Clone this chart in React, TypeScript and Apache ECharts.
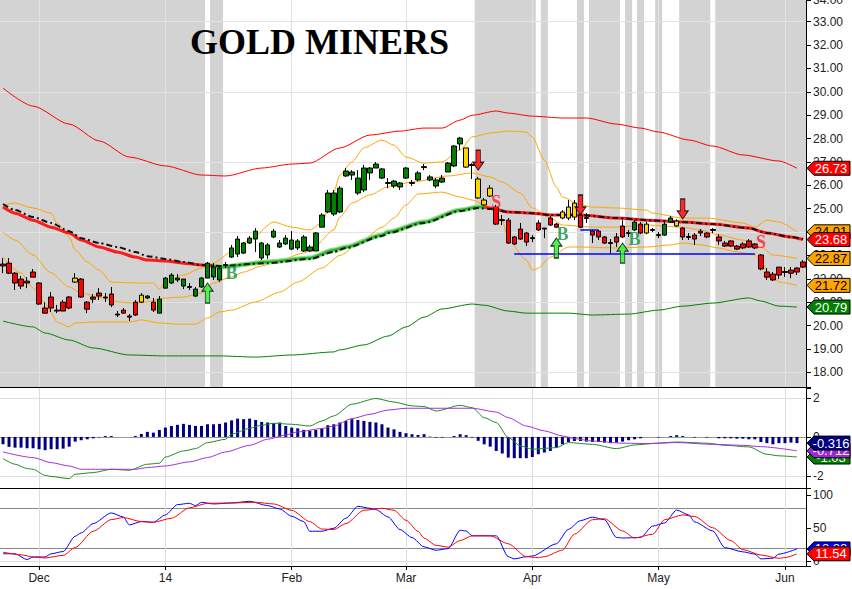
import React, { useEffect, useRef } from "react";
import * as echarts from "echarts";

// ---------------- DATA ----------------
const HOLIDAYS = ["2013-11-28", "2013-12-25", "2014-01-01", "2014-01-20", "2014-02-17", "2014-04-18", "2014-05-26"];
const FIRST_DAY = "2013-11-21";
const MONTHS = ["Jan", "Feb", "Mar", "Apr", "May", "Jun", "Jul", "Aug", "Sep", "Oct", "Nov", "Dec"];

// candle bodies: [bodyTop, bodyBottom, low, high]
const bars: number[][] = [
  [22.63, 22.55, 22.24, 22.89], [22.67, 22.24, 22.2, 22.89], [22.24, 21.82, 21.52, 22.29], [21.99, 21.69, 21.56, 22.12],
  [21.9, 21.82, 21.6, 22.07], [22.29, 22.07, 22.07, 22.42], [21.82, 20.92, 20.88, 21.86], [20.75, 20.53, 20.53, 21.0],
  [21.22, 20.75, 20.58, 21.43], [20.66, 20.62, 20.53, 20.88], [21.0, 20.62, 20.62, 21.09], [21.22, 20.75, 20.7, 21.26],
  [22.03, 21.86, 21.82, 22.24], [21.99, 21.22, 21.18, 22.03], [21.0, 20.7, 20.53, 21.05], [21.22, 21.13, 20.96, 21.35],
  [21.39, 21.26, 21.09, 21.6], [21.22, 21.18, 21.0, 21.39], [21.35, 20.88, 20.79, 21.65], [20.49, 20.45, 20.36, 20.62],
  [20.66, 20.53, 20.53, 20.75], [20.41, 20.36, 20.19, 20.49], [21.0, 20.45, 20.41, 21.09], [21.3, 21.0, 20.96, 21.39],
  [21.26, 21.18, 21.13, 21.3], [21.0, 20.66, 20.58, 21.18], [21.13, 20.53, 20.53, 21.26], [22.03, 21.6, 21.6, 22.08],
  [22.16, 21.82, 21.78, 22.24], [22.03, 21.95, 21.86, 22.2], [21.99, 21.69, 21.56, 21.99], [21.67, 21.63, 21.52, 21.82],
  [21.56, 21.26, 21.22, 21.65], [22.03, 21.65, 21.61, 22.08], [22.67, 22.03, 22.03, 22.72], [22.5, 22.08, 21.95, 22.67],
  [22.46, 21.95, 21.86, 22.5], [22.61, 22.57, 22.46, 22.72], [23.32, 22.93, 22.89, 23.45], [23.7, 23.06, 22.93, 23.83],
  [23.53, 23.1, 23.06, 23.57], [23.74, 23.53, 23.49, 23.83], [24.04, 23.7, 23.15, 24.17], [23.53, 22.89, 22.8, 23.57],
  [23.45, 23.02, 22.85, 23.53], [24.04, 23.79, 23.74, 24.13], [23.53, 23.36, 23.32, 23.66], [23.74, 23.49, 23.45, 23.87],
  [23.66, 23.27, 23.23, 24.04], [23.62, 23.32, 23.23, 23.7], [23.79, 23.19, 23.15, 23.87], [23.36, 23.19, 23.15, 23.45],
  [23.96, 23.19, 23.19, 24.0], [24.73, 24.21, 24.21, 24.81], [25.67, 24.86, 24.81, 25.8], [25.67, 24.77, 24.69, 25.8],
  [25.88, 24.86, 24.81, 25.97], [26.61, 26.4, 26.36, 26.74], [26.57, 26.44, 26.23, 26.65], [26.31, 25.67, 25.59, 26.65],
  [26.74, 25.8, 25.71, 26.87], [26.74, 26.53, 26.23, 26.78], [26.91, 26.74, 26.74, 27.0], [26.7, 26.31, 26.27, 26.74],
  [26.12, 26.08, 25.88, 26.31], [26.18, 25.97, 25.88, 26.23], [26.1, 25.93, 25.8, 26.14], [26.74, 26.31, 26.27, 26.78],
  [26.12, 26.08, 25.97, 26.23], [26.53, 26.23, 26.18, 26.61], [26.8, 26.76, 26.65, 26.91], [26.36, 26.23, 26.18, 26.44],
  [26.23, 25.97, 25.88, 26.31], [26.31, 26.14, 26.1, 26.44], [26.95, 26.57, 26.57, 27.0], [27.68, 26.83, 26.78, 27.72],
  [28.02, 27.77, 27.51, 28.07], [27.6, 26.78, 26.74, 27.6], [26.89, 26.85, 26.27, 26.95], [26.27, 25.46, 25.42, 26.36],
  [25.37, 25.16, 25.12, 25.46], [25.88, 25.54, 25.5, 26.01], [25.07, 24.34, 24.3, 25.16], [24.53, 24.49, 24.3, 24.73],
  [24.51, 23.53, 23.49, 24.6], [23.79, 23.49, 23.45, 23.83], [24.13, 23.7, 23.66, 24.39], [23.96, 23.57, 23.4, 24.0],
  [23.76, 23.72, 23.57, 23.87], [24.39, 24.09, 24.04, 24.51], [24.17, 24.13, 23.74, 24.17], [24.6, 24.3, 24.26, 24.69],
  [24.34, 24.21, 24.17, 24.39], [24.86, 24.6, 24.55, 24.94], [25.07, 24.6, 24.51, 25.37], [25.24, 24.64, 24.51, 25.37],
  [24.73, 24.21, 24.17, 24.81], [24.62, 24.58, 24.39, 24.81], [24.04, 23.87, 23.53, 24.09], [24.04, 23.79, 23.66, 24.09],
  [23.79, 23.53, 23.49, 23.83], [23.55, 23.51, 23.1, 23.7], [23.79, 23.57, 23.36, 23.96], [24.26, 23.79, 23.74, 24.51],
  [23.98, 23.94, 23.79, 24.09], [24.43, 24.09, 24.04, 24.51], [24.34, 23.96, 23.91, 24.43], [24.34, 23.96, 23.91, 24.43],
  [24.11, 24.07, 24.0, 24.17], [23.89, 23.85, 23.74, 24.0], [24.34, 23.87, 23.83, 24.43], [24.6, 24.43, 24.39, 24.69],
  [24.47, 24.26, 24.21, 24.55], [24.17, 23.79, 23.66, 24.21], [23.81, 23.77, 23.66, 23.96], [23.87, 23.7, 23.45, 23.96],
  [24.04, 23.96, 23.83, 24.13], [23.96, 23.79, 23.74, 24.0], [24.11, 24.07, 23.96, 24.17], [23.79, 23.62, 23.45, 23.91],
  [23.53, 23.4, 23.36, 23.62], [23.62, 23.4, 23.36, 23.66], [23.4, 23.27, 23.23, 23.45], [23.49, 23.32, 23.27, 23.57],
  [23.62, 23.36, 23.32, 23.7], [23.49, 23.32, 23.27, 23.53], [23.02, 22.42, 22.37, 23.06], [22.29, 22.07, 21.95, 22.46],
  [22.2, 21.95, 21.91, 22.29], [22.5, 22.16, 21.99, 22.5], [22.31, 22.27, 22.08, 22.5], [22.37, 22.24, 22.03, 22.5],
  [22.46, 22.29, 22.16, 22.5], [22.72, 22.5, 22.46, 22.8],
];

// impulse state per bar: g = up, r = down, y = neutral
const impulse = [
  "rrrrrrrrrrrr", "y", "rrrrrrrrrr", "y", "g", "r",
  "gggggggggg", "gggggggggg", "gggggggggg", "gggggggggg", "gggggggggg", "g",
  "yyyyy", "rrrrrrrrrrr", "yyy", "rrrrrrrrr", "g", "r", "y", "rr", "gg", "y",
  "rrrrrrrrrr", "rrrrrrrrrr", "r",
].join("");

// shaded bar ranges [from, to]
const shadedRanges = [[0, 33], [35, 36], [79, 88], [90, 90], [96, 96], [98, 102], [104, 104], [106, 106], [109, 109], [113, 117], [119, 133]];

// overlays: [barIndex, value]
const bbUpper = [[0, 25.16], [2, 25.24], [5, 25.03], [8, 24.81], [9, 24.39], [11, 23.79], [12, 23.23], [14, 22.72], [16, 22.37], [18, 21.86], [22, 21.82], [25, 21.82], [26, 21.56], [27, 21.86], [30, 22.16], [33, 22.46], [35, 22.67], [38, 23.15], [41, 23.66], [45, 24.43], [48, 24.21], [51, 24.09], [53, 24.39], [55, 25.71], [56, 26.44], [58, 27.0], [60, 27.6], [63, 27.94], [65, 27.72], [67, 27.21], [70, 26.95], [73, 27.0], [76, 27.51], [78, 28.07], [81, 28.24], [84, 28.32], [87, 28.28], [88, 28.07], [90, 27.08], [92, 25.93], [93, 25.5], [96, 25.16], [98, 25.07], [102, 25.03], [107, 24.94], [108, 24.81], [113, 24.6], [117, 24.6], [123, 24.39], [125, 24.21], [127, 24.51], [129, 24.43], [132, 24.01]];
const bbMiddle = [[0, 24.0], [2, 23.66], [5, 23.02], [8, 22.25], [11, 21.65], [13, 21.39], [16, 21.22], [19, 21.01], [22, 20.96], [24, 21.01], [27, 21.18], [30, 21.22], [33, 21.39], [35, 21.82], [38, 22.08], [40, 22.29], [43, 22.55], [46, 22.8], [50, 23.1], [52, 23.45], [55, 24.09], [56, 24.64], [58, 25.24], [61, 25.59], [64, 25.93], [68, 26.14], [74, 26.4], [78, 26.53], [81, 26.36], [83, 26.14], [86, 25.67], [88, 25.03], [91, 24.6], [93, 24.3], [98, 24.21], [102, 24.21], [107, 24.3], [113, 24.21], [116, 24.09], [119, 23.87], [123, 23.66], [126, 23.36], [128, 23.02], [132, 22.87]];
const bbLower = [[0, 22.93], [3, 22.25], [5, 21.61], [7, 20.96], [8, 20.54], [9, 20.15], [11, 19.94], [12, 20.11], [15, 20.15], [21, 20.15], [23, 20.24], [26, 20.11], [29, 20.06], [32, 20.06], [34, 20.32], [36, 20.58], [38, 20.66], [42, 21.01], [46, 21.43], [49, 21.86], [53, 22.46], [56, 23.0], [60, 23.7], [63, 24.2], [65, 24.6], [67, 25.16], [69, 25.63], [73, 25.71], [76, 25.5], [78, 25.37], [81, 25.07], [83, 24.51], [84, 23.66], [87, 22.8], [88, 22.37], [89, 22.46], [91, 22.93], [94, 23.36], [96, 23.36], [102, 23.32], [107, 23.36], [111, 23.45], [113, 23.53], [116, 23.45], [119, 23.32], [122, 23.15], [125, 23.02], [126, 22.67], [128, 22.08], [129, 21.86], [132, 21.72]];
const envUpper = [[0, 30.16], [5, 29.39], [11, 28.62], [16, 27.9], [21, 27.21], [27, 26.83], [33, 26.44], [37, 26.4], [43, 26.74], [48, 26.91], [51, 26.95], [56, 27.6], [61, 28.15], [66, 28.32], [70, 28.45], [73, 28.45], [76, 28.79], [78, 29.0], [82, 29.18], [84, 29.09], [88, 28.96], [93, 28.88], [97, 28.88], [102, 28.62], [106, 28.45], [109, 28.28], [114, 27.94], [118, 27.68], [123, 27.3], [129, 27.04], [132, 26.73]];
const envLower = [[0, 20.19], [5, 19.94], [7, 19.68], [11, 19.38], [15, 19.04], [21, 18.74], [27, 18.7], [33, 18.7], [36, 18.7], [42, 18.65], [48, 18.74], [55, 18.87], [56, 18.96], [60, 19.17], [64, 19.55], [67, 19.94], [70, 20.36], [73, 20.71], [78, 20.92], [80, 20.87], [84, 20.62], [87, 20.53], [94, 20.53], [98, 20.45], [104, 20.49], [109, 20.66], [113, 20.83], [118, 20.96], [124, 21.18], [126, 21.05], [129, 20.83], [132, 20.79]];
const maFalling1 = [[0, 25.07], [2, 24.81], [5, 24.51], [8, 24.21], [11, 23.96], [13, 23.66], [16, 23.36], [19, 23.15], [22, 22.93], [24, 22.8], [27, 22.76], [30, 22.67], [33, 22.59], [35, 22.55]];
const maRising = [[35, 22.55], [36, 22.5], [44, 22.72], [51, 22.89], [55, 23.23], [57, 23.36], [63, 23.87], [64, 24.0], [70, 24.43], [76, 24.94], [79, 25.07], [80, 25.07]];
const maFalling2 = [[80, 25.07], [81, 25.03], [84, 24.86], [88, 24.81], [91, 24.73], [96, 24.73], [102, 24.6], [107, 24.51], [113, 24.43], [118, 24.34], [124, 24.17], [127, 23.96], [131, 23.79], [133, 23.68]];
const emaLine = [[0, 25.2], [2, 24.94], [5, 24.64], [8, 24.39], [11, 24.04], [13, 23.74], [16, 23.53], [19, 23.36], [22, 23.15], [24, 22.97], [27, 22.85], [30, 22.72], [33, 22.59], [36, 22.55], [44, 22.67], [51, 22.85], [55, 23.15], [57, 23.32], [63, 23.83], [64, 23.96], [70, 24.39], [76, 24.9], [79, 25.03], [81, 24.99], [84, 24.86], [88, 24.81], [91, 24.73], [96, 24.73], [102, 24.6], [107, 24.51], [113, 24.43], [118, 24.34], [124, 24.17], [127, 23.96], [131, 23.79], [133, 23.7]];

// signals
const upArrows = [[34, 21.39], [92, 23.32], [103, 23.1]];
const downArrows = [[79, 27.08], [96, 25.16], [113, 24.99]];
const buyLetters = [[38, 22.25], [93, 23.93], [105, 23.7]];
const sellLetters = [[82, 25.29], [126, 23.57]];
const supportLines = [[85, 125, 23.06], [96, 99, 24.09]];

// MACD panel
const macdHist = [
  -0.38, -0.51, -0.55, -0.55, -0.58, -0.58, -0.63, -0.68, -0.63, -0.63,
  -0.6, -0.5, -0.24, -0.17, -0.12, -0.07, -0.02, 0.05, 0.05, 0.0,
  0.0, 0.0, 0.05, 0.15, 0.26, 0.22, 0.36, 0.48, 0.56, 0.62,
  0.67, 0.62, 0.56, 0.56, 0.65, 0.65, 0.67, 0.74, 0.85, 0.94,
  0.91, 0.94, 0.87, 0.77, 0.74, 0.7, 0.74, 0.56, 0.48, 0.44,
  0.36, 0.32, 0.36, 0.43, 0.6, 0.65, 0.74, 0.82, 0.91, 0.87,
  0.82, 0.77, 0.74, 0.65, 0.48, 0.39, 0.26, 0.19, 0.14, 0.1,
  0.14, 0.02, -0.03, -0.03, 0.0, 0.05, 0.14, 0.09, -0.03, -0.2,
  -0.38, -0.5, -0.72, -0.85, -1.06, -1.09, -1.09, -1.09, -1.03, -0.89,
  -0.8, -0.72, -0.55, -0.38, -0.26, -0.21, -0.21, -0.24, -0.26, -0.26,
  -0.29, -0.32, -0.29, -0.24, -0.17, -0.12, -0.07, 0.0, 0.0, -0.03,
  0.0, 0.05, 0.09, 0.05, 0.0, -0.03, 0.0, -0.03, 0.0, -0.07,
  -0.07, -0.07, -0.09, -0.09, -0.12, -0.12, -0.26, -0.32, -0.38, -0.32,
  -0.32, -0.29, -0.316,
];
const macdLine = [[0, -1.11], [2, -1.4], [4, -1.62], [5, -1.66], [7, -1.97], [8, -2.03], [11, -2.14], [12, -1.91], [15, -1.83], [18, -1.66], [21, -1.71], [24, -1.4], [26, -1.35], [27, -1.03], [30, -0.72], [32, -0.6], [34, -0.29], [37, -0.12], [38, 0.14], [41, 0.44], [43, 0.6], [45, 0.7], [48, 0.65], [51, 0.56], [53, 0.82], [55, 1.08], [58, 1.68], [62, 1.97], [65, 1.79], [68, 1.59], [70, 1.56], [72, 1.33], [76, 1.62], [78, 1.5], [80, 0.99], [82, 0.74], [84, -0.03], [86, -0.46], [88, -0.63], [92, -0.55], [94, -0.29], [98, -0.38], [102, -0.6], [105, -0.41], [109, -0.32], [112, -0.26], [117, -0.32], [120, -0.43], [124, -0.51], [127, -0.89], [129, -0.97], [132, -1.03]];
const signalLine = [[0, -0.77], [5, -1.06], [8, -1.32], [11, -1.49], [13, -1.66], [16, -1.66], [22, -1.66], [24, -1.57], [27, -1.49], [31, -1.28], [34, -1.06], [37, -0.77], [41, -0.43], [44, -0.12], [47, 0.1], [49, 0.26], [53, 0.43], [55, 0.56], [58, 0.94], [61, 1.16], [64, 1.38], [67, 1.47], [70, 1.47], [78, 1.47], [82, 1.28], [84, 0.99], [87, 0.56], [90, 0.31], [93, 0.05], [95, -0.09], [98, -0.21], [103, -0.32], [107, -0.34], [112, -0.29], [118, -0.38], [123, -0.43], [126, -0.5], [132, -0.712]];

// Stochastics panel
const stochK = [[0, 11.6], [2, 11.6], [4, 2.9], [5, 6.8], [7, 6.8], [8, 11.6], [10, 15], [12, 38], [13, 43], [15, 57], [18, 73], [20, 67], [21, 55], [23, 60], [25, 59], [27, 70], [29, 85.5], [31, 87.5], [32, 84], [33, 89], [35, 86.5], [38, 88], [41, 90.5], [44, 84], [46, 79], [48, 68], [50, 60], [51, 45.5], [53, 45.5], [55, 50], [57, 65], [59, 83], [61, 80], [62, 78], [64, 67], [66, 48], [68, 36], [70, 22], [72, 16.9], [74, 19.3], [76, 46.8], [77, 45.9], [78, 38.6], [82, 38.6], [84, 7.2], [85, 3.9], [87, 7.2], [88, 8.2], [92, 26.6], [94, 48.3], [96, 61.4], [98, 66.7], [100, 62.8], [102, 36.2], [103, 35.3], [106, 36.2], [108, 53.1], [110, 58], [112, 77.3], [114, 70], [115, 59.4], [118, 45.9], [120, 20.8], [123, 14.5], [125, 11.1], [126, 3.9], [128, 4.8], [129, 11.1], [132, 18.88]];
const stochD = [[0, 14], [3, 10], [5, 6.8], [7, 5.3], [10, 9.2], [12, 21], [15, 45.5], [18, 63], [20, 66], [23, 60], [25, 59], [28, 65], [31, 80.7], [34, 87.5], [38, 88], [42, 89], [45, 86.5], [48, 77], [51, 60], [53, 48.8], [55, 48], [57, 57], [60, 77], [63, 80], [65, 77], [67, 62], [69, 45.5], [70, 35], [72, 24.2], [74, 21.7], [76, 31.4], [78, 38.6], [81, 38.6], [84, 26.6], [87, 7.2], [89, 5.8], [90, 7.2], [93, 16.9], [95, 41], [98, 62.8], [100, 64.3], [103, 45.9], [105, 35.3], [108, 41], [110, 62.8], [113, 70], [115, 67.6], [118, 50.7], [121, 31.4], [123, 17.9], [126, 9.7], [129, 4.8], [130, 5.8], [132, 11.54]];

const priceGridLevels = [18, 21, 24, 27, 30, 33];

// ---------------- HELPERS ----------------
function tradingDays(start: string, count: number): string[] {
  const out: string[] = [];
  const d = new Date(start + "T12:00:00Z");
  while (out.length < count) {
    const dow = d.getUTCDay();
    const iso = d.toISOString().slice(0, 10);
    if (dow !== 0 && dow !== 6 && !HOLIDAYS.includes(iso)) out.push(iso);
    d.setUTCDate(d.getUTCDate() + 1);
  }
  return out;
}

const dates = tradingDays(FIRST_DAY, bars.length);
const monthStarts = dates
  .map((d, i) => (i > 0 && d.slice(5, 7) !== dates[i - 1].slice(5, 7) ? i : -1))
  .filter((i) => i >= 0);

const fmtMonth = (v: string) => {
  const m = +v.slice(5, 7);
  return m === 1 ? v.slice(2, 4) : MONTHS[m - 1];
};
const isInt = (v: number) => Math.abs(v - Math.round(v)) < 1e-6;
const last = (a: number[][]) => a[a.length - 1][1];

const FONT = '"Liberation Sans", Arial, sans-serif';
const SERIF = '"Liberation Serif", "Times New Roman", serif';
const COLORS: Record<string, string> = { g: "#008000", r: "#ff0000", y: "#ffd700" };

function lineSeries(data: number[][], color: string, width: number, xi: number, yi: number, z: number, extra: any = {}) {
  return {
    type: "line", data, xAxisIndex: xi, yAxisIndex: yi, showSymbol: false, symbol: "none",
    smooth: 0.25, smoothMonotone: "x", lineStyle: { color, width }, z, silent: true, ...extra,
  };
}

function gridLines(items: any[], z: number) {
  return {
    silent: true, symbol: ["none", "none"], z, label: { show: false },
    emphasis: { disabled: true }, lineStyle: { color: "#e2e2e2", width: 1, type: "solid" }, data: items,
  };
}

function buildOption() {
  const shade = dates.map((_, i) => (shadedRanges.some(([a, b]) => i >= a && i <= b) ? 1 : 0));
  const candleData = bars.map((b, i) => {
    const s = impulse[i];
    const col = COLORS[s];
    const [top, bot, lo, hi] = b;
    const o = s === "g" ? bot : top;
    const c = s === "g" ? top : bot;
    return { value: [o, c, lo, hi], itemStyle: { color: col, color0: col, borderColor: "#000", borderColor0: "#000", borderWidth: 1 } };
  });
  const vLines = (color: string) => monthStarts.map((i) => ({ xAxis: dates[i], lineStyle: { color } }));

  const yCommon = {
    position: "right", z: 10,
    axisLine: { show: true, onZero: false, lineStyle: { color: "#000", width: 1 } },
    axisTick: { show: true, length: 5, lineStyle: { color: "#000" } },
    splitLine: { show: false },
  };

  return {
    animation: false,
    backgroundColor: "#ffffff",
    grid: [
      { left: 0, top: 0, width: 806, height: 387, containLabel: false, outerBoundsMode: "none" },
      { left: 0, top: 388, width: 806, height: 100, containLabel: false, outerBoundsMode: "none" },
      { left: 0, top: 489, width: 806, height: 77, containLabel: false, outerBoundsMode: "none" },
    ],
    xAxis: [0, 1, 2].map((g) => ({
      type: "category", gridIndex: g, data: dates, boundaryGap: true, z: 10,
      axisLine: { show: true, onZero: false, lineStyle: { color: "#000", width: 1 } },
      axisTick: g === 2
        ? { show: true, interval: (i: number) => monthStarts.includes(i), alignWithLabel: true, length: 4, lineStyle: { color: "#000" } }
        : { show: false },
      axisLabel: g === 2
        ? { show: true, interval: (i: number) => monthStarts.includes(i), formatter: fmtMonth, color: "#222", fontSize: 12, fontFamily: FONT, margin: 6 }
        : { show: false },
      splitLine: { show: false },
    })),
    yAxis: [
      {
        ...yCommon, type: "value", gridIndex: 0, min: 17.37, max: 33.93, splitNumber: 16,
        axisLabel: { formatter: (v: number) => (isInt(v) ? v.toFixed(2) : ""), color: "#222", fontSize: 12, fontFamily: FONT, margin: 7 },
      },
      { type: "value", gridIndex: 0, min: 0, max: 1, show: false },
      {
        ...yCommon, type: "value", gridIndex: 1, min: -2.62, max: 2.51, splitNumber: 3,
        axisLabel: { formatter: (v: number) => (isInt(v) ? String(Math.round(v)) : ""), color: "#222", fontSize: 12, fontFamily: FONT, margin: 7 },
      },
      {
        ...yCommon, type: "value", gridIndex: 2, min: -6.8, max: 109, splitNumber: 2,
        axisLabel: { formatter: (v: number) => (isInt(v) ? String(Math.round(v)) : ""), color: "#222", fontSize: 12, fontFamily: FONT, margin: 7 },
      },
    ],
    series: [
      // shading (slightly wider than a band so neighbouring bars merge)
      {
        type: "bar", xAxisIndex: 0, yAxisIndex: 1, data: shade, barWidth: 7, barGap: "-100%",
        itemStyle: { color: "#d3d3d3" }, silent: true, z: 1,
      },
      // envelopes & bands
      lineSeries(envLower, "#008000", 1, 0, 0, 3, {
        markLine: gridLines([...priceGridLevels.map((v) => ({ yAxis: v })), ...vLines("#e2e2e2")], 2),
      }),
      lineSeries(envUpper, "#ff0000", 1, 0, 0, 3),
      lineSeries(bbUpper, "#ffa500", 1, 0, 0, 3),
      lineSeries(bbMiddle, "#ffa500", 1, 0, 0, 3),
      lineSeries(bbLower, "#ffa500", 1, 0, 0, 3),
      // moving averages
      lineSeries(maFalling1, "#ff1a1a", 3, 0, 0, 4),
      lineSeries(maRising, "#8fe08f", 5, 0, 0, 4),
      lineSeries(maRising, "#2fb52f", 2.5, 0, 0, 4),
      lineSeries(maFalling2, "#ff1a1a", 3, 0, 0, 4),
      lineSeries(emaLine, "#111111", 2, 0, 0, 4, { lineStyle: { color: "#111111", width: 2, type: [6, 3, 2, 3] } }),
      // candles
      {
        type: "candlestick", xAxisIndex: 0, yAxisIndex: 0, data: candleData, barWidth: 5, z: 5, silent: true,
        markLine: {
          silent: true, symbol: ["none", "none"], z: 6, label: { show: false }, emphasis: { disabled: true },
          lineStyle: { color: "#0000ff", width: 1.5, type: "solid" },
          data: supportLines.map(([a, b, v]) => [{ coord: [dates[a], v] }, { coord: [dates[b], v] }]),
        },
      },
      // arrows
      {
        type: "scatter", xAxisIndex: 0, yAxisIndex: 0, data: upArrows, z: 7, silent: true,
        symbol: "path://M5,0 L10,8 L7,8 L7,20 L3,20 L3,8 L0,8 Z", symbolSize: [11, 20],
        itemStyle: { color: "#22f022", borderColor: "#000", borderWidth: 1 },
      },
      {
        type: "scatter", xAxisIndex: 0, yAxisIndex: 0, data: downArrows, z: 7, silent: true,
        symbol: "path://M3,0 L7,0 L7,12 L10,12 L5,20 L0,12 L3,12 Z", symbolSize: [11, 20],
        itemStyle: { color: "#ff0000", borderColor: "#000", borderWidth: 1 },
      },
      // letters
      {
        type: "scatter", xAxisIndex: 0, yAxisIndex: 0, data: buyLetters, z: 7, silent: true, symbolSize: 1,
        itemStyle: { color: "rgba(0,0,0,0)" },
        label: { show: true, position: "inside", formatter: "B", color: "#0e8f3e", fontSize: 18, fontWeight: "bold", fontFamily: SERIF },
      },
      {
        type: "scatter", xAxisIndex: 0, yAxisIndex: 0, data: sellLetters, z: 7, silent: true, symbolSize: 1,
        itemStyle: { color: "rgba(0,0,0,0)" },
        label: { show: true, position: "inside", formatter: "S", color: "#ff2030", fontSize: 18, fontWeight: "bold", fontFamily: SERIF },
      },
      // MACD
      {
        type: "bar", xAxisIndex: 1, yAxisIndex: 2, data: macdHist, barWidth: 3, z: 3, silent: true,
        itemStyle: { color: "#000080" },
        markLine: gridLines([
          { yAxis: 2, lineStyle: { color: "#dddddd" } },
          { yAxis: -2, lineStyle: { color: "#dddddd" } },
          { yAxis: 0, lineStyle: { color: "#999999" } },
          ...vLines("#dddddd"),
        ], 1),
      },
      lineSeries(macdLine, "#228b22", 1, 1, 2, 4),
      lineSeries(signalLine, "#a030e0", 1, 1, 2, 4),
      // Stochastics
      lineSeries(stochK, "#0000ff", 1, 2, 3, 4, {
        markLine: gridLines([
          { yAxis: 80, lineStyle: { color: "#888888" } },
          { yAxis: 20, lineStyle: { color: "#888888" } },
          { yAxis: 0, lineStyle: { color: "#dddddd" } },
          ...vLines("#dddddd"),
        ], 1),
      }),
      lineSeries(stochD, "#ff0000", 1, 2, 3, 4),
    ],
  };
}

function buildGraphics(chart: any) {
  const els: any[] = [
    {
      type: "text", x: 190, y: 42, z: 50,
      style: { text: "GOLD MINERS", font: `bold 36px ${SERIF}`, fill: "#000", align: "left", verticalAlign: "middle", textAlign: "left", textVerticalAlign: "middle" },
    },
    // clipped top tick label of the price scale, as in the source picture
    {
      type: "text", x: 813, y: 0, z: 40,
      style: { text: "34.00", fill: "#222", font: `12px ${FONT}`, align: "left", verticalAlign: "middle", textAlign: "left", textVerticalAlign: "middle" },
    },
  ];
  let z = 100;
  const tag = (axis: number, value: number, text: string, bg: string, fg: string) => {
    const y = chart.convertToPixel({ yAxisIndex: axis }, value) as number;
    const h = 7;
    els.push({
      type: "polygon", z: z++,
      shape: { points: [[807, y], [814, y - h], [850, y - h], [850, y + h], [814, y + h]] },
      style: { fill: bg, stroke: "#000", lineWidth: 1 },
    });
    els.push({
      type: "text", x: 831, y, z: z++,
      style: { text, fill: fg, font: `13px ${FONT}`, align: "center", verticalAlign: "middle", textAlign: "center", textVerticalAlign: "middle" },
    });
  };
  const mainTags: [number, string, string][] = [
    [last(envUpper), "#ff0000", "#fff"],
    [last(envLower), "#008000", "#fff"],
    [last(bbLower), "#ffa500", "#000"],
    [last(bbMiddle), "#ffa500", "#000"],
    [last(bbUpper), "#ffa500", "#000"],
    [last(maFalling2), "#ff0000", "#fff"],
  ];
  mainTags.forEach(([v, bg, fg]) => tag(0, v, v.toFixed(2), bg, fg));
  const macdTags: [number, string][] = [
    [last(macdLine), "#008000"],
    [last(signalLine), "#9a28d8"],
    [macdHist[macdHist.length - 1], "#000080"],
  ];
  macdTags.forEach(([v, bg]) => tag(2, v, v.toPrecision(3), bg, "#fff"));
  tag(3, last(stochK), last(stochK).toFixed(2), "#0000ff", "#fff");
  tag(3, last(stochD), last(stochD).toFixed(2), "#ff0000", "#fff");
  return els;
}

export default function App() {
  const ref = useRef<HTMLDivElement>(null);
  useEffect(() => {
    if (!ref.current) return;
    const chart = echarts.init(ref.current, undefined, { renderer: "svg" });
    chart.setOption(buildOption() as any);
    chart.setOption({ graphic: buildGraphics(chart) } as any);
    return () => chart.dispose();
  }, []);
  return <div ref={ref} style={{ position: "absolute", left: 0, top: 0, width: 852, height: 589 }} />;
}
